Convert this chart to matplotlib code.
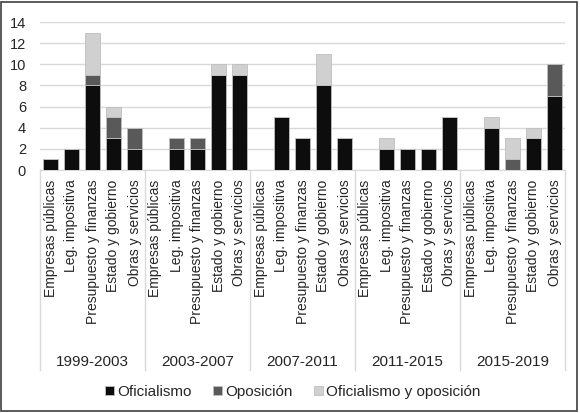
import matplotlib
matplotlib.use("Agg")
import matplotlib.pyplot as plt
import numpy as np
from matplotlib.patches import Rectangle
from matplotlib.lines import Line2D

plt.rcParams['font.family'] = ['Liberation Sans', 'DejaVu Sans']

periods = ["1999-2003", "2003-2007", "2007-2011", "2011-2015", "2015-2019"]
categories = ["Empresas públicas", "Leg. impositiva", "Presupuesto y finanzas",
              "Estado y gobierno", "Obras y servicios"]
series_names = ["Oficialismo", "Oposición", "Oficialismo y oposición"]

oficialismo = [1, 2, 8, 3, 2,
               0, 2, 2, 9, 9,
               0, 5, 3, 8, 3,
               0, 2, 2, 2, 5,
               0, 4, 0, 3, 7]
oposicion = [0, 0, 1, 2, 2,
             0, 1, 1, 0, 0,
             0, 0, 0, 0, 0,
             0, 0, 0, 0, 0,
             0, 0, 1, 0, 3]
ambos = [0, 0, 4, 1, 0,
         0, 0, 0, 1, 1,
         0, 0, 0, 3, 0,
         0, 1, 0, 0, 0,
         0, 1, 2, 1, 0]
yticks = [0, 2, 4, 6, 8, 10, 12, 14]

colors = ["#0d0d0d", "#595959", "#d0d0d0"]
text_color = "#262626"

fig = plt.figure(figsize=(5.8, 4.13), dpi=100)
ax = fig.add_axes([40/580, 1-170/413, 525/580, 148/413])

n = len(categories) * len(periods)
x = np.arange(n)
of = np.array(oficialismo)
op = np.array(oposicion)
am = np.array(ambos)
w = 0.72
ek = dict(edgecolor="#bfbfbf", linewidth=0.6)
ax.bar(x, of, w, color=colors[0], label=series_names[0], zorder=3, **ek)
ax.bar(x, op, w, bottom=of, color=colors[1], label=series_names[1], zorder=3, **ek)
ax.bar(x, am, w, bottom=of+op, color=colors[2], label=series_names[2], zorder=3, **ek)

ax.set_xlim(-0.5, n-0.5)
ax.set_ylim(0, 14)
ax.set_yticks(yticks)
ax.yaxis.grid(True, color="#d9d9d9", linewidth=1, zorder=0)
ax.set_axisbelow(True)
for s in ["top", "right", "left"]:
    ax.spines[s].set_visible(False)
ax.spines["bottom"].set_color("#d9d9d9")
ax.tick_params(axis="y", length=0, pad=10, labelsize=10.5, labelcolor=text_color)
ax.set_xticks(x)
ax.set_xticklabels(categories * len(periods), rotation=90, fontsize=10,
                   color=text_color, va="top", ha="center")
ax.tick_params(axis="x", length=0, pad=7)

trans = ax.get_xaxis_transform()
nc = len(categories)
for g in range(len(periods) + 1):
    xb = g * nc - 0.5
    ax.add_line(Line2D([xb, xb], [0, -1.351], transform=trans, color="#d9d9d9",
                       linewidth=1, clip_on=False))
for g, p in enumerate(periods):
    ax.text(g * nc + (nc - 1) / 2, -1.297, p, transform=trans, ha="center",
            va="center", fontsize=11, color=text_color)

leg = fig.legend(loc="center", bbox_to_anchor=(293/580, 1-392/413), ncol=3,
                 frameon=False, fontsize=11, handlelength=0.55, handleheight=0.55,
                 handletextpad=0.25, columnspacing=1.4, labelcolor=text_color)

fig.patches.append(Rectangle((0.5/580, 2.5/413), 576/580, 409/413,
                             transform=fig.transFigure, fill=False,
                             edgecolor="#404040", linewidth=1.2))

fig.savefig("out.png", dpi=100)
